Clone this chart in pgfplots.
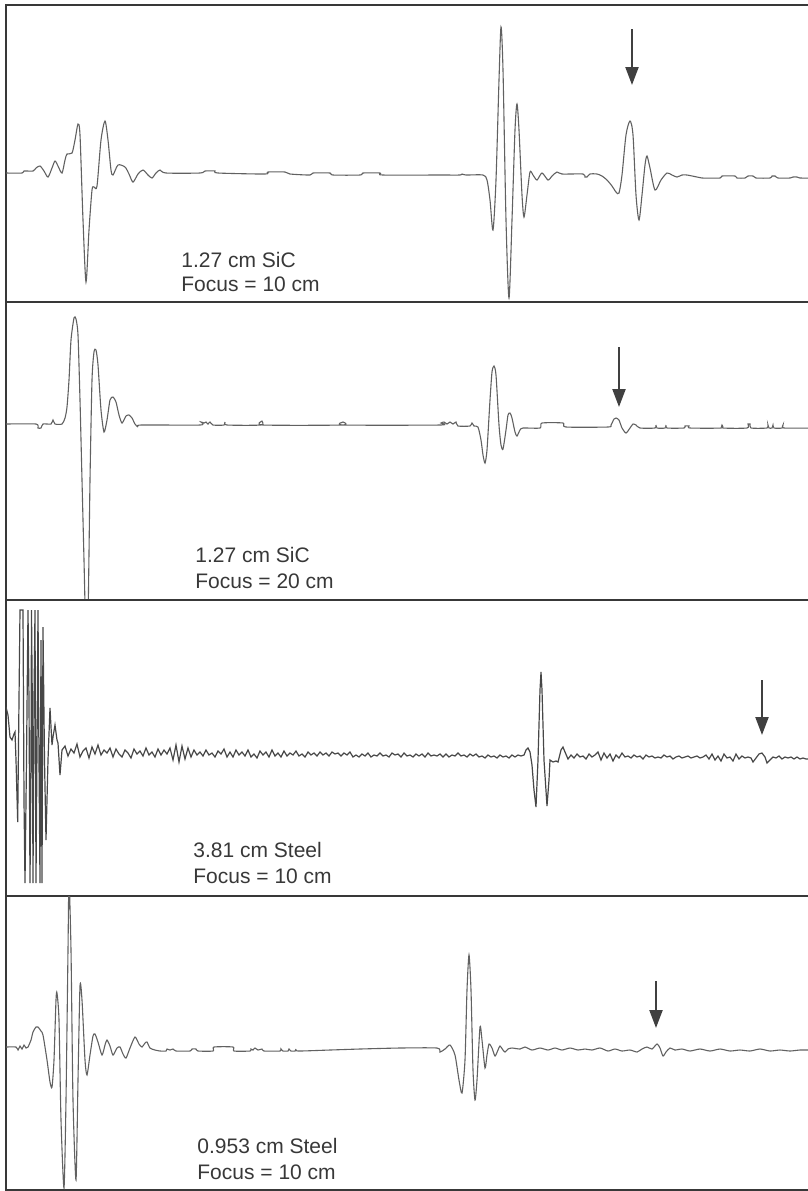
\documentclass[border=0pt]{standalone}
\usepackage{pgfplots}
\pgfplotsset{compat=1.18}
\usepackage{fontspec}
\setmainfont{Liberation Sans}
\usetikzlibrary{arrows.meta}
\definecolor{trace}{gray}{0.38}
\definecolor{trace3}{gray}{0.28}
\definecolor{frame}{gray}{0.22}
\definecolor{txt}{gray}{0.22}
\pgfplotsset{
  panel/.style={scale only axis, width=403pt, xmin=6, xmax=812,
    y dir=reverse, ticks=none, clip=true,
    axis line style={line width=1.1pt, frame}},
  wave/.style={trace, line width=0.55pt, no marks},
}
\newcommand{\lab}{\fontsize{10.5}{12}\selectfont\color{txt}}
\tikzset{marker/.style={line width=1.1pt, black!75, -{Triangle[width=6.5pt,length=9pt]}}}
\begin{document}
\begin{tikzpicture}
% ---------------- panel 1 ----------------
\begin{axis}[panel, ymin=5, ymax=302, height=148.5pt, at={(3pt,-2.5pt)}, anchor=north west]
\addplot[wave, smooth, tension=0.45] coordinates {
(6,173) (22,173) (24,171) (33,171) (36,168) (40,166) (44,171) (48,177) (52,168) (55,161) (58,166) (62,173) (65,160) (67,154) (72,153) (75,140) (78,124) (80,135) (83,220) (86,282) (89,230) (92,190) (94,187) (97,186) (101,140) (105,121) (108,140) (111,170) (113,175) (118,165) (125,167) (129,174) (133,182) (138,174) (143,170) (148,175) (152,178) (156,173) (160,170) (166,173) (200,173) (205,171) (215,171) (218,173) (265,174) (268,172) (285,172) (290,174) (310,175) (313,173) (330,173) (333,175) (360,175) (363,173) (380,173) (383,175) (440,175) (460,175) (462,174) (466,175) (483,175) (487,180) (490,200) (493,230) (496,180) (499,80) (501,27) (503,70) (506,220) (509,298) (512,220) (515,130) (517,104) (519,130) (522,195) (524,217) (527,195) (530,172) (533,175) (537,180) (542,173) (548,180) (552,176) (557,172) (562,174) (583,174) (585,177) (587,177) (590,174) (597,174) (602,176) (607,180) (612,186) (616,192) (619,193) (622,175) (626,135) (630,121) (633,135) (636,195) (639,220) (642,195) (645,165) (647,156) (650,168) (655,190) (661,180) (667,173) (672,175) (677,177) (682,175) (687,175) (697,177) (702,178) (720,178) (722,176) (735,176) (737,178) (745,178) (748,176) (753,176) (756,178) (770,178) (772,176) (775,176) (778,178) (790,178) (793,177) (797,177) (800,178) (812,178)
};
\draw[marker] (axis cs:632,29) -- (axis cs:632,85);
\node[anchor=base west, inner sep=0pt] at (axis cs:181,267) {\lab 1.27 cm SiC};
\node[anchor=base west, inner sep=0pt] at (axis cs:181,291) {\lab Focus = 10 cm};
\end{axis}
% ---------------- panel 2 ----------------
\begin{axis}[panel, ymin=302, ymax=600, height=149pt, at={(3pt,-151pt)}, anchor=north west]
\addplot[wave, smooth, tension=0.4] coordinates {
(6,424) (36,424) (38,428) (41,428) (43,424) (51,424) (53,420) (55,424) (62,424) (65,418) (67,407) (69,380) (71,340) (74,318) (76,319) (78,335) (80,400) (82,480) (84,560) (86,640) (88,620) (90,480) (92,380) (94,352) (96,350) (98,365) (101,410) (104,432) (107,420) (110,400) (113,397) (116,402) (119,415) (122,423) (126,416) (129,415) (132,418) (135,424) (138,427) (141,425) (200,425) (201,422) (204,423) (206,422) (208,424) (210,422) (213,425) (224,425) (225,422) (227,425) (261,425) (262,421) (263,425) (342,425) (343,422) (344,425) (440,425) (441,423) (444,422) (447,424) (450,422) (453,424) (456,422) (458,426) (470,426) (472,423) (474,426) (478,427) (481,440) (483,455) (485,463) (487,450) (490,400) (492,372) (494,366) (496,375) (499,425) (501,445) (503,449) (506,430) (508,415) (510,413) (512,418) (515,432) (517,436) (520,430) (523,428) (540,428) (542,423) (563,423) (566,427) (608,427) (611,425) (614,419) (616,418) (619,420) (622,428) (626,433) (630,428) (633,424) (636,425) (640,428) (655,428) (656,425) (657,428) (665,428) (666,425) (667,428) (684,428) (685,426) (689,426) (690,428) (721,428) (722,425) (723,428) (747,428) (748,424) (750,424) (751,428) (767,428) (768,425) (769,428) (772,428) (773,425) (774,428) (782,428) (783,425) (784,428) (812,428)
};
\draw[marker] (axis cs:619,347) -- (axis cs:619,407);
\node[anchor=base west, inner sep=0pt] at (axis cs:195,562) {\lab 1.27 cm SiC};
\node[anchor=base west, inner sep=0pt] at (axis cs:195,588) {\lab Focus = 20 cm};
\end{axis}
% ---------------- panel 3 ----------------
\begin{axis}[panel, ymin=600, ymax=896, height=148pt, at={(3pt,-300pt)}, anchor=north west]
\addplot[trace3, line width=0.6pt, no marks] coordinates {
(6,707) (8,715) (10,737) (12,740) (14,734) (15,732) (16,760) (17.7,822) (19,700) (20,610) (23,610) (24,800) (25,883) (26.5,760) (28,610) (29,700) (30,883) (31,760) (31.5,610) (32.3,700) (33,883) (34,700) (35,610) (36,883) (37,750) (38,610) (39,760) (40,883) (41,640) (42,883) (43,627) (44.5,760) (46,840) (48,760) (50,708) (52,745) (53,737) (55,725) (57,740) (58,743) (60,775) (62,750)
(65,746) (68,756) (71,749) (74,753) (77,744) (80,757) (83,751) (86,748) (89,758) (92,747) (95,754) (98,745) (101,755) (104,750) (107,753) (110,748) (113,757) (116,749) (119,754) (122,757) (125,750) (128,753) (131,758) (134,749) (137,754) (140,751) (143,756) (146,748) (149,755) (152,752) (155,757) (158,749) (161,755) (164,750) (167,754) (170,748) (173,760) (176,745) (179,762) (182,746) (185,759) (188,748) (191,757) (194,750) (197,755) (200,752) (203,756) (206,750) (209,755) (212,753) (215,757) (218,751) (221,754) (224,749) (227,757) (230,752) (233,757) (236,750) (239,755) (242,752) (245,756) (248,750) (251,757) (254,754) (257,758) (260,751) (263,755) (266,752) (269,757) (272,750) (275,756) (278,753) (281,757) (284,751) (287,756) (290,753) (293,755) (296,751) (299,756) (302,754) (305,757) (308,752) (311,755) (314,753) (317,756) (320,752) (323,755) (326,753) (329,756) (332,752) (335,754) (338,753) (341,756) (344,753) (347,755) (350,752) (353,757) (356,755) (359,757) (362,754) (365,756) (368,753) (371,757) (374,755) (377,756) (380,753) (383,756) (386,755) (389,757) (392,753) (395,755) (398,754) (401,757) (404,753) (407,756) (410,755) (413,757) (416,754) (419,756) (422,754) (425,757) (428,753) (431,756) (434,755) (437,756) (440,754) (443,757) (446,754) (449,757) (452,755) (455,756) (458,753) (461,756) (464,755) (467,757) (470,754) (473,756) (476,754) (479,757) (482,756) (485,758) (488,755) (491,757) (494,756) (497,758) (500,755) (503,757) (506,756) (509,758) (512,755) (515,757) (518,755) (521,756) (524,755) (526,750) (528,748) (530,752) (532,765) (534,790) (536,807) (538,760) (540,690) (541,672) (542,690) (544,760) (547,806) (549,780) (550,760) (553,762) (556,761) (558,762) (561,750) (563,747) (565,752) (568,759) (571,755) (574,758) (577,754) (580,757) (583,756) (586,759) (589,754) (592,757) (595,755) (598,752) (601,760) (604,753) (607,758) (610,754) (613,761) (616,755) (619,758) (622,753) (625,757) (628,756) (631,758) (634,755) (637,757) (640,756) (643,759) (646,755) (649,757) (652,756) (655,758) (658,757) (661,758) (664,755) (667,757) (670,756) (673,759) (676,757) (679,756) (682,758) (685,757) (688,756) (691,758) (694,757) (697,756) (700,758) (703,757) (706,755) (709,759) (712,754) (715,760) (718,756) (721,761) (724,754) (727,758) (730,757) (733,761) (736,754) (739,759) (742,756) (745,758) (748,757) (751,758) (753,762) (756,758) (759,754) (762,753) (765,757) (767,763) (770,760) (773,757) (776,758) (779,756) (782,759) (785,757) (788,758) (791,757) (794,759) (797,757) (800,759) (803,758) (806,759) (812,759)
};
\draw[marker] (axis cs:762,680) -- (axis cs:762,735);
\node[anchor=base west, inner sep=0pt] at (axis cs:193,857) {\lab 3.81 cm Steel};
\node[anchor=base west, inner sep=0pt] at (axis cs:193,883) {\lab Focus = 10 cm};
\end{axis}
% ---------------- panel 4 ----------------
\begin{axis}[panel, ymin=896, ymax=1190, height=147pt, at={(3pt,-448pt)}, anchor=north west]
\addplot[wave, smooth, tension=0.4] coordinates {
(6,1047) (16,1047) (18,1050) (20,1046) (22,1049) (24,1045) (26,1048) (28,1047) (31,1040) (33,1032) (36,1027) (38,1027) (41,1031) (43,1035) (47,1060) (50,1082) (52,1087) (54,1060) (56,1000) (57,993) (59,1020) (61,1120) (64,1188) (66,1100) (68,950) (69,880) (71,950) (73,1100) (76,1180) (78,1080) (80,986) (82,1000) (85,1060) (87,1075) (90,1055) (93,1036) (95,1034) (98,1042) (102,1055) (105,1045) (107,1040) (110,1046) (113,1055) (117,1048) (120,1047) (123,1054) (126,1058) (130,1048) (135,1037) (139,1044) (142,1047) (145,1043) (147,1042) (150,1048) (155,1050) (160,1051) (166,1051) (167,1049) (170,1050) (173,1049) (176,1051) (190,1051) (192,1049) (196,1049) (198,1051) (213,1051) (214,1047) (233,1047) (234,1051) (250,1051) (251,1049) (253,1050) (255,1048) (258,1050) (262,1049) (264,1051) (280,1051) (281,1049) (283,1051) (288,1051) (289,1049) (291,1051) (295,1051) (296,1049) (298,1051) (330,1050) (360,1049) (400,1048) (437,1048) (440,1052) (445,1049) (450,1045) (455,1055) (459,1080) (462,1093) (465,1060) (467,990) (469,955) (471,990) (473,1070) (475,1100) (477,1080) (480,1027) (482,1040) (485,1068) (487,1055) (489,1044) (492,1048) (495,1056) (498,1050) (500,1046) (503,1050) (505,1052) (508,1049) (512,1048) (520,1049) (525,1047) (532,1050) (540,1048) (548,1050) (555,1048) (562,1050) (570,1048) (578,1050) (585,1049) (592,1050) (600,1048) (608,1051) (615,1049) (622,1051) (630,1050) (637,1052) (642,1049) (647,1047) (652,1049) (657,1044) (660,1048) (663,1056) (666,1052) (670,1048) (675,1050) (682,1049) (690,1051) (700,1049) (710,1051) (720,1049) (730,1051) (740,1050) (750,1051) (760,1049) (770,1051) (780,1050) (790,1051) (800,1050) (812,1050)
};
\draw[marker] (axis cs:656,981) -- (axis cs:656,1028);
\node[anchor=base west, inner sep=0pt] at (axis cs:197,1153) {\lab 0.953 cm Steel};
\node[anchor=base west, inner sep=0pt] at (axis cs:197,1179) {\lab Focus = 10 cm};
\end{axis}
\pgfresetboundingbox
\useasboundingbox (0,0) rectangle (404pt,-595.5pt);
\end{tikzpicture}
\end{document}
